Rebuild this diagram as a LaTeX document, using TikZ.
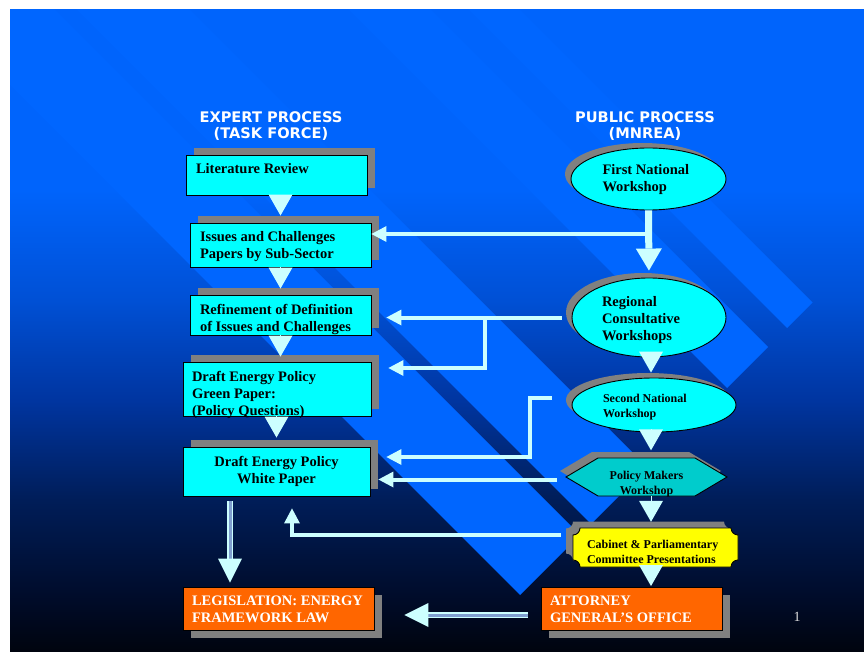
\documentclass[tikz,border=0pt]{standalone}
\usepackage{fontspec}
\setmainfont{Liberation Serif}
\newfontfamily\headfont{DejaVu Sans}
\usetikzlibrary{arrows.meta}
\usetikzlibrary{shapes.geometric}
\usetikzlibrary{shadows}

\definecolor{boxcyan}{HTML}{00FFFF}
\definecolor{policyteal}{HTML}{00CCCC}
\definecolor{cabyellow}{HTML}{FFFF00}
\definecolor{laworange}{HTML}{FF6600}
\definecolor{shadegray}{HTML}{808080}
\definecolor{flowc}{HTML}{CCFFFF}
\definecolor{gapc}{HTML}{7F9FCF}
\definecolor{stripeblue}{HTML}{0066FF}
\definecolor{bgTop}{HTML}{0064FC}
\definecolor{bgA}{HTML}{0050D5}
\definecolor{bgB}{HTML}{0035A0}
\definecolor{bgC}{HTML}{001D58}
\definecolor{bgD}{HTML}{000B28}
\definecolor{bgE}{HTML}{00040E}

\pgfdeclareverticalshading{slidebg}{100bp}{color(0bp)=(bgE); color(25bp)=(bgE); color(29bp)=(bgD); color(36.8bp)=(bgC); color(44.6bp)=(bgB); color(52.4bp)=(bgA); color(61bp)=(bgTop); color(100bp)=(bgTop)}

% x0 y0 x1 y1 r : box with notched corners
\newcommand{\plaquepath}[5]{(#1+#5,#2) -- (#3-#5,#2) arc (180:90:#5) -- (#3,#4-#5) arc (270:180:#5) -- (#1+#5,#4) arc (0:-90:#5) -- (#1,#2+#5) arc (90:0:#5) -- cycle}
% raise, width, text
\newcommand{\boxtext}[3]{\raisebox{#1}[\height][\depth]{\parbox{#2}{#3}}}

\begin{document}
\begin{tikzpicture}[x=1pt, y=-1pt,
  taskbox/.style={rectangle, draw=black, line width=0.9pt, fill=boxcyan, inner xsep=10pt, inner ysep=0pt,
    font=\bfseries\fontsize{14.5}{17}\selectfont, general shadow={shadow xshift=7.5pt, shadow yshift=7pt, fill=shadegray}},
  lawbox/.style={rectangle, draw=black, line width=0.9pt, fill=laworange, text=white, inner xsep=9pt, inner ysep=0pt,
    minimum height=43pt, font=\bfseries\fontsize{14.5}{17}\selectfont, general shadow={shadow xshift=8pt, shadow yshift=-7.5pt, fill=shadegray}},
  workshop/.style={ellipse, draw=black, line width=0.9pt, fill=boxcyan, inner sep=0pt,
    font=\bfseries\fontsize{14.5}{17}\selectfont, general shadow={shadow xshift=-6pt, shadow yshift=5pt, fill=shadegray}},
  head/.style={text=white, align=center, font=\headfont\bfseries\fontsize{14.6}{16}\selectfont},
  drop/.style={draw=flowc, line width=0.1pt, -{Triangle[width=24pt,length=21pt,line width=0pt]}},
  bigflow/.style={draw=flowc, line width=7pt, -{Triangle[width=26pt,length=22pt,line width=0pt]}},
  link/.style={draw=flowc, line width=4pt, -{Triangle[width=16pt,length=15pt,line width=0pt]}},
  lawline/.style={draw=flowc, line width=1.6pt, double=gapc, double distance=3pt, -{Triangle[width=24pt,length=24pt,line width=0pt]}}]

\useasboundingbox (0,0) rectangle (864,652);
\fill[white] (0,0) rectangle (864,652);
\shade[shading=slidebg] (10,10) rectangle (864,652);

% diagonal bands
\begin{scope}
\clip (10,10) rectangle (864,652);
\foreach \a/\b in {459/510, 339/421, 67/180, -75/45}
  \fill[stripeblue] ({(1115+(\a))/2},{(1115-(\a))/2}) -- ({(1115+(\b))/2},{(1115-(\b))/2})
    -- ({(1115+(\b))/2-700},{(1115-(\b))/2-700}) -- ({(1115+(\a))/2-700},{(1115-(\a))/2-700}) -- cycle;
\end{scope}

\node[head] (exh) at (271,126) {EXPERT PROCESS\\(TASK FORCE)};
\node[head] (puh) at (645,126) {PUBLIC PROCESS\\(MNREA)};

% expert process
\node[taskbox, minimum height=40pt] (lit) at (276.5,175) {\boxtext{6pt}{161pt}{Literature Review}};
\node[taskbox, minimum height=44pt] (iss) at (280.5,245) {\boxtext{-2pt}{161pt}{Issues and Challenges\\Papers by Sub-Sector}};
\node[taskbox, minimum height=40pt] (ref) at (280.5,315) {\boxtext{-4pt}{161pt}{Refinement of Definition\\of Issues and Challenges}};
\node[taskbox, inner xsep=9pt, minimum height=54pt] (grn) at (277,389) {\boxtext{-6pt}{170pt}{Draft Energy Policy\\Green Paper:\\(Policy Questions)}};
\node[taskbox, minimum height=49pt] (wht) at (276.5,471.5) {\boxtext{0pt}{167pt}{\centering Draft Energy Policy\\White Paper}};
\node[lawbox] (leg) at (278.5,608.5) {\boxtext{-1pt}{173pt}{LEGISLATION: ENERGY\\FRAMEWORK LAW}};

% public process
\node[workshop, minimum width=155pt, minimum height=62pt] (fnw) at (648.5,179) {\boxtext{-1pt}{92pt}{First National\\Workshop}};
\node[workshop, minimum width=154pt, minimum height=79pt] (rcw) at (649,317.5) {\boxtext{-3pt}{94pt}{Regional\\Consultative\\Workshops}};
\node[workshop, minimum width=164pt, minimum height=54pt, font=\bfseries\fontsize{12}{15}\selectfont] (scw) at (654,405) {\boxtext{-2pt}{102pt}{Second National\\Workshop}};

\fill[shadegray] (560,471) -- (592,452) -- (689,452) -- (721,471) -- (689,490) -- (592,490) -- cycle;
\filldraw[fill=policyteal, draw=black, line width=0.9pt] (566,477) -- (598,458) -- (695,458) -- (727,477) -- (695,496) -- (598,496) -- cycle;
\node[minimum width=161pt, minimum height=38pt, inner sep=0pt, font=\bfseries\fontsize{12}{15}\selectfont] (pmw) at (646.5,477)
  {\boxtext{-7.5pt}{120pt}{\centering Policy Makers\\Workshop}};

\fill[shadegray] \plaquepath{566}{521.5}{731}{560.5}{7};
\filldraw[fill=cabyellow, draw=black, line width=0.9pt] \plaquepath{573}{528}{738}{567}{7};
\node[minimum width=165pt, minimum height=39pt, inner sep=0pt, font=\bfseries\fontsize{12}{15}\selectfont] (cab) at (655.5,547.5)
  {\boxtext{-4pt}{137pt}{\raggedright Cabinet \& Parliamentary\\Committee Presentations}};

\node[lawbox] (ago) at (631.5,608.5) {\boxtext{-1pt}{163pt}{ATTORNEY\\GENERAL'S OFFICE}};

\node[text=white!88!black, font=\fontsize{14}{16}\selectfont] (pg) at (797,617) {1};

% flow down the columns
\draw[drop, shorten >=7pt] (iss.north |- lit.south) -- (iss.north);
\draw[drop, shorten >=6pt] (ref.north |- iss.south) -- (ref.north);
\draw[drop, shorten >=5pt] (ref.north |- ref.south) -- (ref.north |- grn.north);
\draw[drop, shorten >=9pt] (wht.north |- grn.south) -- (wht.north);

\coordinate (spine) at (651,0);
\draw[bigflow, shorten >=7pt] (fnw.south) -- (rcw.north);
\draw[drop, shorten >=5pt] (spine |- rcw.south) -- (spine |- scw.north);
\draw[drop, shorten >=7.5pt] (spine |- scw.south) -- (spine |- pmw.north);
\draw[drop, shorten >=6pt] (spine |- pmw.south) -- (spine |- cab.north);
\draw[drop, shorten >=0.5pt] (spine |- cab.south) -- (spine |- ago.north);

% public -> expert
\draw[link] (fnw.south |- 0,234) -- (iss.east |- 0,234);
\draw[link, shorten >=15pt] ([xshift=-10pt]rcw.west) -- (rcw.west -| ref.east);
\coordinate (rj) at (485,317.5);
\draw[link, shorten >=17pt] (rj) |- ([yshift=21pt]grn.east);
\coordinate (sj) at (530,398);
\draw[link, shorten >=16pt] ([xshift=-20pt,yshift=7pt]scw.west) -- (sj) |- ([yshift=14.5pt]wht.east);
\draw[link, shorten >=8pt] ([xshift=-9pt,yshift=-2.5pt]pmw.west) -- ([yshift=-8pt]wht.east);
\draw[link, shorten >=12pt] ([xshift=-12pt,yshift=12.5pt]cab.west) -| ([xshift=15.5pt]wht.south);

% to the law
\coordinate (lawx) at (230,0);
\draw[lawline, shorten <=5pt, shorten >=4pt] (lawx |- wht.south) -- (lawx |- leg.north);
\draw[lawline] ([xshift=-13pt,yshift=-6.5pt]ago.west) -- ([xshift=30pt,yshift=-6.5pt]leg.east);

\end{tikzpicture}
\end{document}
